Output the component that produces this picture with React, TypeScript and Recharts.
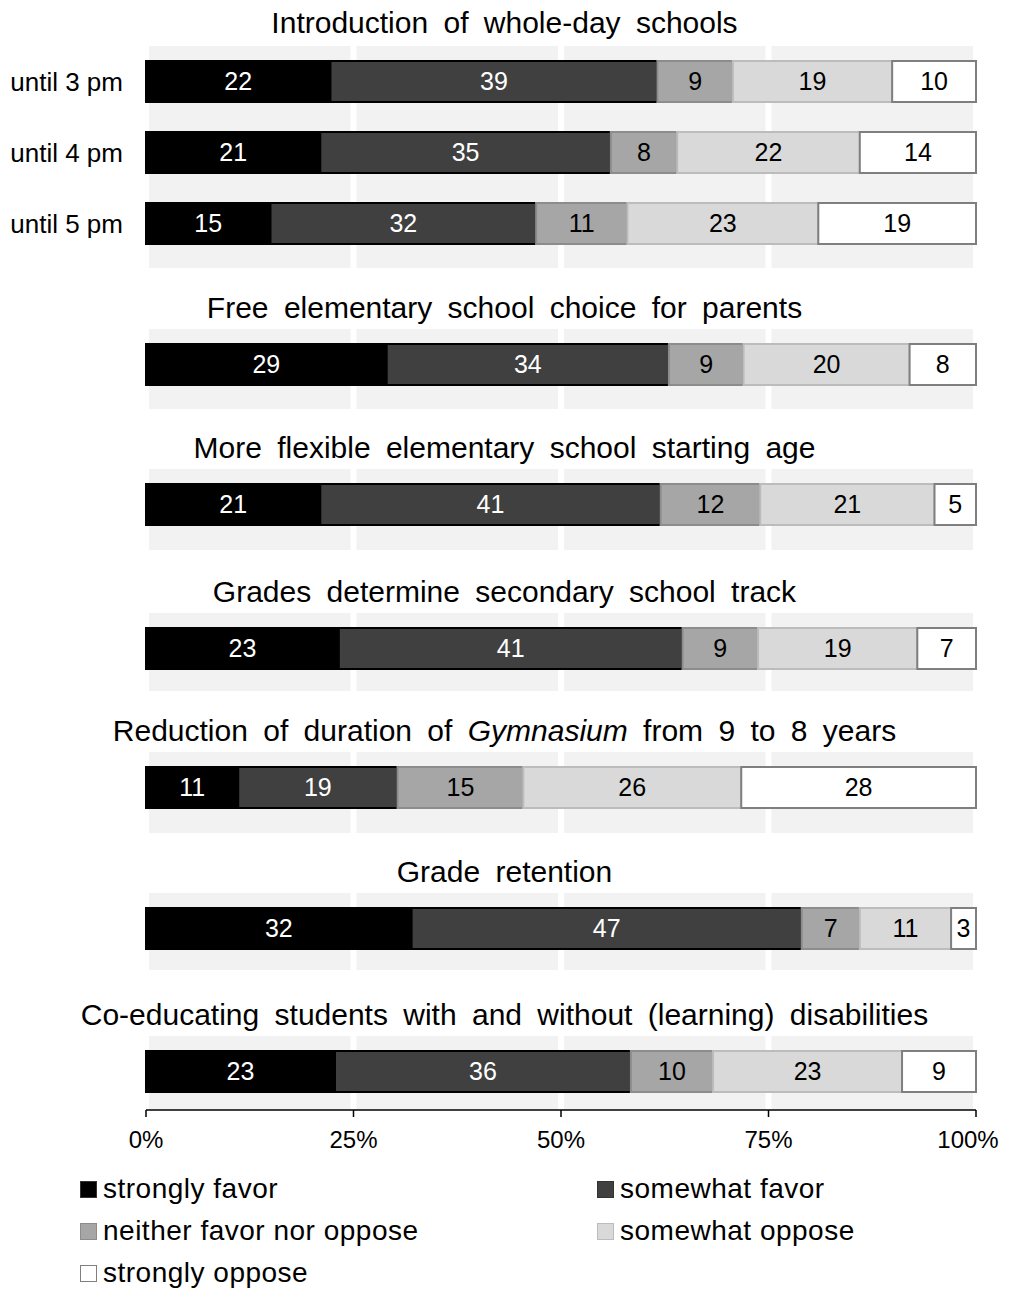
import React from "react";
import { BarChart, Bar, XAxis, YAxis, CartesianGrid, LabelList } from "recharts";

// one title per group of bars
const TITLES = [
  "Introduction of whole-day schools",
  "Free elementary school choice for parents",
  "More flexible elementary school starting age",
  "Grades determine secondary school track",
  "Reduction of duration of Gymnasium from 9 to 8 years",
  "Grade retention",
  "Co-educating students with and without (learning) disabilities",
];

// rows in drawing order; only the first group has row labels
const ROW_LABELS = ["until 3 pm", "until 4 pm", "until 5 pm", "r4", "r5", "r6", "r7", "r8", "r9"];
const ROW_GROUP = [0, 0, 0, 1, 2, 3, 4, 5, 6];

const SERIES_NAMES = [
  "strongly favor",
  "somewhat favor",
  "neither favor nor oppose",
  "somewhat oppose",
  "strongly oppose",
];
const STRONGLY_FAVOR = [22, 21, 15, 29, 21, 23, 11, 32, 23];
const SOMEWHAT_FAVOR = [39, 35, 32, 34, 41, 41, 19, 47, 36];
const NEITHER = [9, 8, 11, 9, 12, 9, 15, 7, 10];
const SOMEWHAT_OPPOSE = [19, 22, 23, 20, 21, 19, 26, 11, 23];
const STRONGLY_OPPOSE = [10, 14, 19, 8, 5, 7, 28, 3, 9];

const X_TICKS = [0, 0.25, 0.5, 0.75, 1];

const SERIES_KEYS = ["sf", "wf", "nn", "wo", "so"];
const SERIES_VALUES = [STRONGLY_FAVOR, SOMEWHAT_FAVOR, NEITHER, SOMEWHAT_OPPOSE, STRONGLY_OPPOSE];
const FILLS = ["#000000", "#404040", "#a6a6a6", "#d9d9d9", "#ffffff"];
const STROKES = ["#000000", "#000000", "#8c8c8c", "#bcbcbc", "#7f7f7f"];
const LABEL_COLORS = ["#ffffff", "#ffffff", "#000000", "#000000", "#000000"];

// layout (px)
const GAP_ABOVE = [38, 61, 60, 63, 61, 60, 66];
const TITLE_LINE = [47, 43, 43, 43, 43, 43, 43];
const BAND_H = [222, 80, 81, 78, 81, 77, 74];
const ROW_H = 71;
const PAGE_W = 993;
const CHART_W = 993;
const RIGHT_M = 25;
const AXIS_H = 45;
const FONT = "'Liberation Sans', Arial, Helvetica, sans-serif";

const rows = ROW_LABELS.map((name, i) => {
  const r: Record<string, any> = { name, group: ROW_GROUP[i] };
  SERIES_KEYS.forEach((k, s) => (r[k] = SERIES_VALUES[s][i]));
  return r;
});

// percent tick; the last one is nudged left so it stays inside the page
function PctTick(p: any) {
  const v = p.payload.value;
  const shift = v === 1 ? -8 : 0;
  return (
    <text x={p.x + shift} y={p.y} dy="0.71em" textAnchor="middle" fontSize={24} fill="#000">
      {`${Math.round(v * 100)}%`}
    </text>
  );
}

function Title({ text, g }: { text: string; g: number }) {
  const parts = text.split("Gymnasium");
  return (
    <div
      style={{
        width: PAGE_W,
        height: GAP_ABOVE[g],
        display: "flex",
        alignItems: "flex-end",
        justifyContent: "center",
        fontSize: 30,
        wordSpacing: 7,
        color: "#000",
      }}
    >
      <div style={{ lineHeight: `${TITLE_LINE[g]}px`, whiteSpace: "nowrap" }}>
        {parts.length > 1 ? (
          <>
            {parts[0]}
            <i>Gymnasium</i>
            {parts[1]}
          </>
        ) : (
          text
        )}
      </div>
    </div>
  );
}

function Group({ g }: { g: number }) {
  const data = rows.filter((r) => r.group === g);
  const isFirst = g === 0;
  const isLast = g === TITLES.length - 1;
  const band = BAND_H[g];
  const height = band + (isLast ? AXIS_H : 0);
  return (
    <BarChart
      width={CHART_W}
      height={height}
      data={data}
      layout="vertical"
      stackOffset="expand"
      barSize={41}
      margin={{ top: 0, right: RIGHT_M, bottom: 0, left: 0 }}
    >
      <CartesianGrid horizontal={false} fill="#f2f2f2" stroke="#ffffff" strokeWidth={6} />
      <XAxis
        type="number"
        domain={[0, 1]}
        ticks={X_TICKS}
        hide={!isLast}
        height={AXIS_H}
        tick={<PctTick />}
        axisLine={{ stroke: "#000", strokeWidth: 1.5 }}
        tickLine={{ stroke: "#000", strokeWidth: 1.5 }}
        tickSize={7}
        tickMargin={14}
        interval={0}
      />
      <YAxis
        type="category"
        dataKey="name"
        width={138}
        padding={{ top: 0, bottom: band - data.length * ROW_H }}
        axisLine={false}
        tickLine={false}
        tickMargin={17}
        tick={isFirst ? { fontSize: 26, fill: "#000" } : false}
      />
      {SERIES_KEYS.map((k, s) => (
        <Bar
          key={k}
          dataKey={k}
          name={SERIES_NAMES[s]}
          stackId="a"
          fill={FILLS[s]}
          stroke={STROKES[s]}
          strokeWidth={2}
          isAnimationActive={false}
        >
          <LabelList
            dataKey={k}
            position="center"
            fill={LABEL_COLORS[s]}
            style={{ fontSize: 25 }}
          />
        </Bar>
      ))}
    </BarChart>
  );
}

function LegendBox() {
  return (
    <div
      style={{
        marginTop: 13,
        marginLeft: 72,
        display: "grid",
        gridTemplateColumns: "517px 320px",
        gridAutoRows: "42px",
        fontSize: 28,
        letterSpacing: 0.5,
      }}
    >
      {SERIES_NAMES.map((n, s) => (
        <div key={n} style={{ display: "flex", alignItems: "center", whiteSpace: "nowrap" }}>
          <span
            style={{
              display: "inline-block",
              width: 15,
              height: 15,
              background: FILLS[s],
              border: `1.5px solid ${s < 2 ? "#333" : STROKES[s]}`,
              marginRight: 6,
            }}
          />
          {n}
        </div>
      ))}
    </div>
  );
}

export default function App() {
  return (
    <div style={{ width: PAGE_W, fontFamily: FONT, color: "#000" }}>
      <style>
        {"html, body { overflow: hidden; } .recharts-wrapper, .recharts-surface { overflow: visible !important; }"}
      </style>
      {TITLES.map((t, g) => (
        <React.Fragment key={t}>
          <Title text={t} g={g} />
          <Group g={g} />
        </React.Fragment>
      ))}
      <LegendBox />
    </div>
  );
}
